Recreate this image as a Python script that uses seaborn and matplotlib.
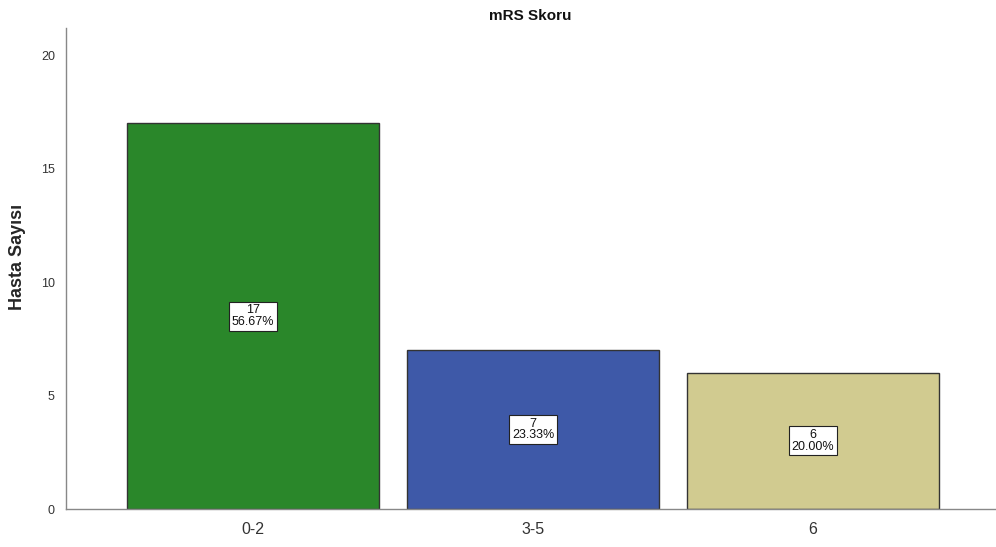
import matplotlib
matplotlib.use("Agg")
import matplotlib.pyplot as plt
import seaborn as sns
import pandas as pd

categories = ["0-2", "3-5", "6"]
counts = [17, 7, 6]
percents = [56.67, 23.33, 20.00]
colors = ["#2a872a", "#3e59a8", "#d1cb90"]

sns.set_style("white")
plt.rcParams["font.family"] = ["Liberation Sans", "DejaVu Sans"]

df = pd.DataFrame({"mRS": categories, "n": counts})

fig = plt.figure(figsize=(9.96, 5.47), dpi=100)
ax = fig.add_axes([66 / 996, 1 - 509 / 547, (995 - 66) / 996, (509 - 28) / 547])

sns.barplot(data=df, x="mRS", y="n", hue="mRS", palette=colors, width=0.9,
            edgecolor="#333333", linewidth=1.0, saturation=1, legend=False, ax=ax)

for i, (c, p) in enumerate(zip(counts, percents)):
    ax.text(i, c / 2, f"{c}\n{p:.2f}%", ha="center", va="center", fontsize=9,
            linespacing=0.95, color="#111111",
            bbox=dict(boxstyle="square,pad=0.22", facecolor="white", edgecolor="#222222", linewidth=0.8))

ax.set_xlim(-0.668, 2.65)
ax.set_ylim(0, 21.2)
ax.set_yticks([0, 5, 10, 15, 20])
ax.tick_params(axis="y", length=0, labelsize=9, colors="#333333", pad=8)
ax.tick_params(axis="x", length=0, labelsize=11.5, colors="#333333", pad=9)
ax.set_xlabel("")
ax.set_ylabel("Hasta Sayısı", fontsize=13, fontweight="bold")
ax.yaxis.set_label_coords(-0.043, 0.524)
ax.set_title("mRS Skoru", fontsize=11, fontweight="bold", pad=6, color="#111111")

sns.despine(ax=ax)
for s in ("left", "bottom"):
    ax.spines[s].set_color("#888888")
    ax.spines[s].set_linewidth(1.0)

fig.savefig("out.png", dpi=100)
